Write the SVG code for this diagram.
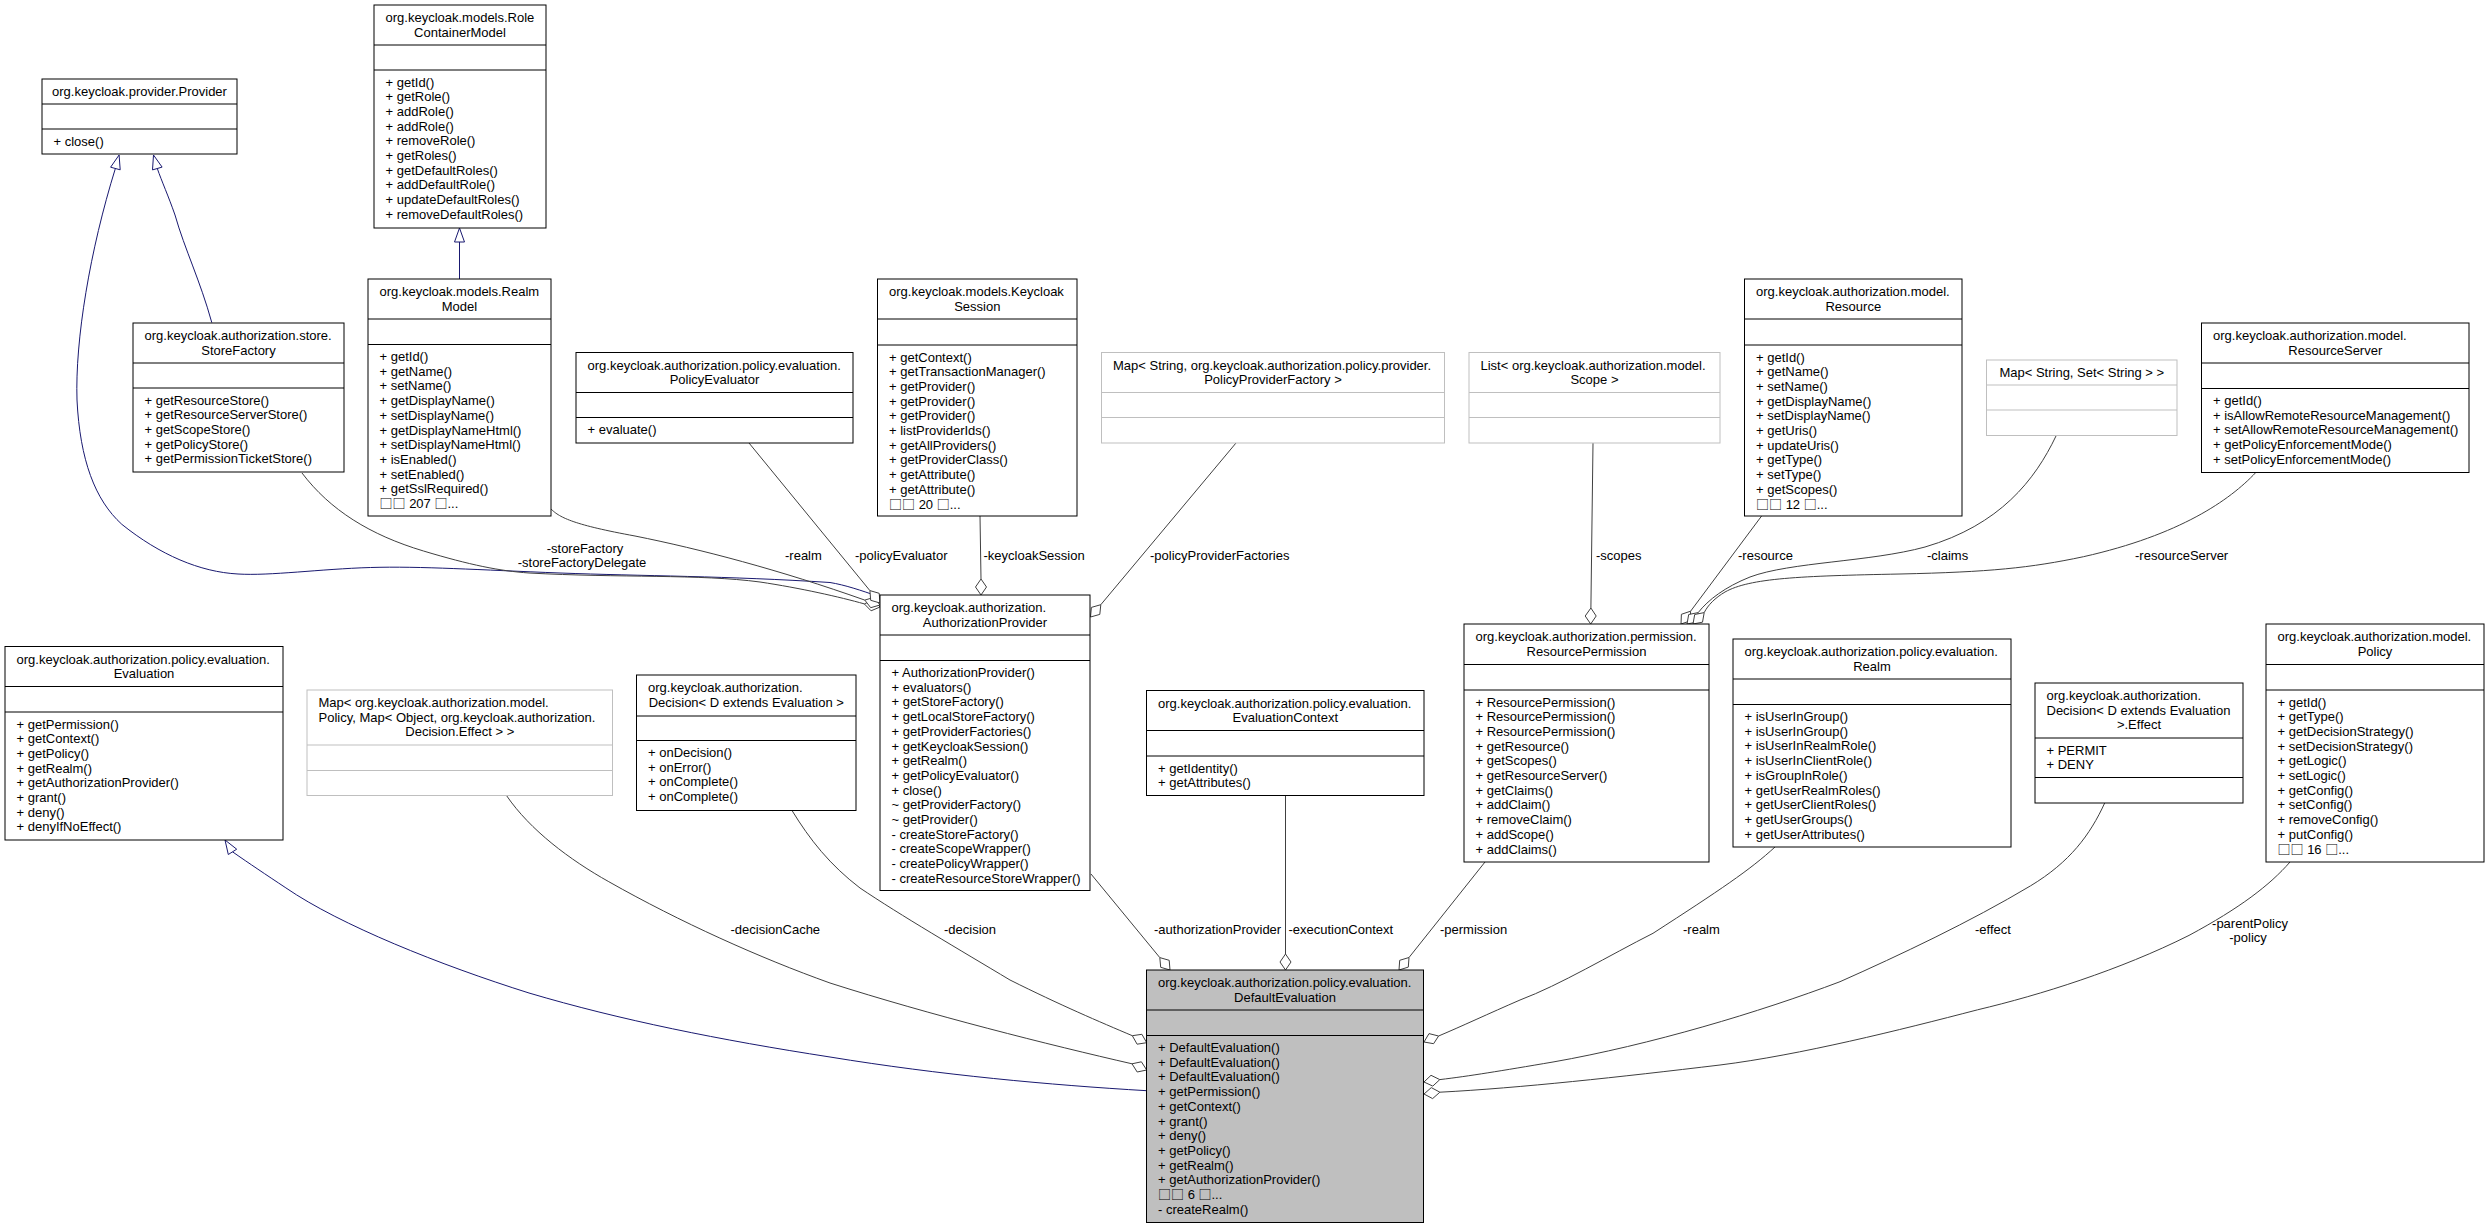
<svg xmlns="http://www.w3.org/2000/svg" width="2489" height="1228" viewBox="0 0 2489 1228">
<style>
text{font-family:"Liberation Sans",Arial,"DejaVu Sans",sans-serif;font-size:13px;fill:#000}
.c{text-anchor:middle}
.k{font-family:"Noto Sans CJK SC","DejaVu Sans",sans-serif}
.b{fill:#fff;stroke:#000;stroke-width:1}
.g{fill:#fff;stroke:#bfbfbf;stroke-width:1}
.cur{fill:#bfbfbf;stroke:#000;stroke-width:1}
.s{stroke:#000;stroke-width:1}
.gs{stroke:#bfbfbf;stroke-width:1}
.e{fill:none;stroke:#404040;stroke-width:1}
.i{fill:none;stroke:#191970;stroke-width:1}
.d{fill:#fff;stroke:#404040;stroke-width:1}
.t{fill:#fff;stroke:#191970;stroke-width:1}
</style>
<rect width="2489" height="1228" fill="#fff"/>

<g id="connectors">
<!-- inheritance -->
<path class="i" d="M459.5,279 L459.5,242"/>
<polygon class="t" points="459.5,228 464.5,242 454.5,242"/>
<path class="i" d="M211.8,322.6 C200,280 185,250 175,215 C168,195 162,182 157.3,168.5"/>
<polygon class="t" points="153.5,155 162.1,167.1 152.5,169.9"/>
<path class="i" d="M880,597 C860,590 845,585 830,582.5 C730,576 640,576 560,573 C480,570 420,566 370.6,567.5 C320,569 270,576 238,574 C200,572 160,555 121.8,524.3 C95,500 80,460 77,400 C75,340 90,250 115.4,168.4"/>
<polygon class="t" points="119.1,155 120.2,169.8 110.6,167.2"/>
<path class="i" d="M1146.7,1090.7 C1050,1085 940,1075 830,1057 C720,1040 620,1020 529,993 C440,965 340,925 285.9,887.9 C265,874 250,864 232.5,851.8"/>
<polygon class="t" points="225,840 236.7,849.2 228.3,854.5"/>

<!-- associations to AuthorizationProvider -->
<path class="e" d="M302,473 C330,510 370,535 423.5,551 C470,565 500,571 529,573 C620,578 700,574 760,582 C800,588 840,597 864.3,603.9"/>
<polygon class="d" points="880,607 871.1,610.8 864.3,603.9 873.2,600"/>
<path class="e" d="M551,509 C560,518 575,525 635,536 C700,549 780,570 864.8,600.1"/>
<polygon class="d" points="880,605 870.7,607.7 864.8,600.1 874.1,597.3"/>
<path class="e" d="M749,443 L869.9,590.6"/>
<polygon class="d" points="880,603 870.7,600.3 869.9,590.6 879.2,593.3"/>
<path class="e" d="M980,516 L981,579"/>
<polygon class="d" points="981,595 986.5,587 981,579 975.5,587"/>
<path class="e" d="M1236,443 L1100.8,604.7"/>
<polygon class="d" points="1090.5,617 1099.8,614.4 1100.8,604.7 1091.4,607.4"/>

<!-- associations to ResourcePermission -->
<path class="e" d="M1593,443 L1590.9,608"/>
<polygon class="d" points="1590.7,624 1596.2,616 1590.9,608 1585.2,616"/>
<path class="e" d="M1761.6,516 L1690.6,611.2"/>
<polygon class="d" points="1681,624 1690.2,620.9 1690.6,611.2 1681.4,614.3"/>
<path class="e" d="M2056,436 C2035,480 2000,525 1925,547 C1870,562 1790,562 1750,577 C1725,587 1708,600 1698.2,612.6"/>
<polygon class="d" points="1687,624 1696.5,622.2 1698.2,612.6 1688.7,614.5"/>
<path class="e" d="M2255.6,472.7 C2230,500 2180,535 2083.5,556.7 C2030,568 1990,572 1900,574 C1800,576 1750,578 1725,592 C1715,598 1708,605 1704.2,612.6"/>
<polygon class="d" points="1693,624 1702.5,622.2 1704.2,612.6 1694.7,614.5"/>

<!-- associations to DefaultEvaluation -->
<path class="e" d="M1091,874 L1159.8,957.6"/>
<polygon class="d" points="1170,970 1160.7,967.3 1159.8,957.6 1169.2,960.3"/>
<path class="e" d="M1285.5,795.7 L1285.5,954"/>
<polygon class="d" points="1285.5,970 1291,962 1285.5,954 1280,962"/>
<path class="e" d="M1485,862 L1409,957.5"/>
<polygon class="d" points="1399,970 1408.3,967.1 1409,957.5 1399.7,960.3"/>
<path class="e" d="M791.7,810 C810,840 830,865 860,888 C900,915 960,950 1010,980 C1060,1005 1100,1022 1132.3,1035.7"/>
<polygon class="d" points="1146.7,1042.7 1137.1,1044.2 1132.3,1035.7 1141.9,1034.3"/>
<path class="e" d="M506.6,795.7 C530,830 570,860 608.8,881.7 C680,922 760,958 830,983 C930,1015 1050,1045 1132,1063.8"/>
<polygon class="d" points="1146.7,1070 1137.2,1072 1132,1063.8 1141.4,1061.8"/>
<path class="e" d="M1775,847 C1750,870 1720,890 1653,933.3 C1610,955 1560,985 1520,1000 C1490,1013 1460,1027 1438.6,1036"/>
<polygon class="d" points="1424,1042 1433.6,1043.7 1438.6,1036 1429,1033.6"/>
<path class="e" d="M2104.7,803 C2090,835 2070,862 2030.6,885.8 C1970,922 1900,955 1840,981.7 C1760,1012 1650,1045 1553,1062 C1500,1071 1470,1076 1439.8,1079.6"/>
<polygon class="d" points="1424,1082 1432.8,1086.1 1439.8,1079.6 1431,1075.3"/>
<path class="e" d="M2290,862 C2270,885 2240,908 2189,935.4 C2120,970 2040,995 1977.6,1009.8 C1900,1030 1800,1055 1720,1065 C1620,1077 1520,1088 1439.9,1092.2"/>
<polygon class="d" points="1424,1094 1432.6,1098.6 1439.9,1092.2 1431.3,1087.6"/>

<!-- labels -->
<text class="c" x="585" y="552.5">-storeFactory</text>
<text class="c" x="582" y="567">-storeFactoryDelegate</text>
<text x="785" y="560">-realm</text>
<text x="855" y="560">-policyEvaluator</text>
<text x="983.5" y="560">-keycloakSession</text>
<text x="1150" y="560">-policyProviderFactories</text>
<text x="1596" y="560">-scopes</text>
<text x="1738" y="560">-resource</text>
<text x="1927" y="560">-claims</text>
<text x="2135" y="560">-resourceServer</text>
<text x="730.5" y="933.5">-decisionCache</text>
<text x="944" y="933.5">-decision</text>
<text x="1154" y="933.5">-authorizationProvider</text>
<text x="1288.4" y="933.5">-executionContext</text>
<text x="1440" y="933.5">-permission</text>
<text x="1683" y="933.5">-realm</text>
<text x="1975" y="933.5">-effect</text>
<text class="c" x="2250" y="927.5">-parentPolicy</text>
<text class="c" x="2248" y="942">-policy</text>
</g>

<g id="provider">
<rect class="b" x="42" y="79" width="195" height="75"/>
<line class="s" x1="42" y1="104" x2="237" y2="104"/><line class="s" x1="42" y1="129" x2="237" y2="129"/>
<text class="c" x="139.5" y="95.5">org.keycloak.provider.Provider</text>
<text x="53.5" y="145.5">+ close()</text>
</g>

<g id="roleContainerModel">
<rect class="b" x="374" y="5" width="172" height="223"/>
<line class="s" x1="374" y1="45" x2="546" y2="45"/><line class="s" x1="374" y1="70" x2="546" y2="70"/>
<text x="385.5" y="22">org.keycloak.models.Role</text>
<text class="c" x="460" y="36.7">ContainerModel</text>
<text x="385.5" y="86.5">+ getId()</text>
<text x="385.5" y="101.2">+ getRole()</text>
<text x="385.5" y="115.9">+ addRole()</text>
<text x="385.5" y="130.6">+ addRole()</text>
<text x="385.5" y="145.3">+ removeRole()</text>
<text x="385.5" y="160">+ getRoles()</text>
<text x="385.5" y="174.7">+ getDefaultRoles()</text>
<text x="385.5" y="189.4">+ addDefaultRole()</text>
<text x="385.5" y="204.1">+ updateDefaultRoles()</text>
<text x="385.5" y="218.8">+ removeDefaultRoles()</text>
</g>

<g id="storeFactory">
<rect class="b" x="133" y="323" width="211" height="149"/>
<line class="s" x1="133" y1="363" x2="344" y2="363"/><line class="s" x1="133" y1="388" x2="344" y2="388"/>
<text x="144.5" y="340">org.keycloak.authorization.store.</text>
<text class="c" x="238.5" y="354.7">StoreFactory</text>
<text x="144.5" y="404.5">+ getResourceStore()</text>
<text x="144.5" y="419.2">+ getResourceServerStore()</text>
<text x="144.5" y="433.9">+ getScopeStore()</text>
<text x="144.5" y="448.6">+ getPolicyStore()</text>
<text x="144.5" y="463.3">+ getPermissionTicketStore()</text>
</g>

<g id="realmModel">
<rect class="b" x="368" y="279" width="183" height="237"/>
<line class="s" x1="368" y1="319" x2="551" y2="319"/><line class="s" x1="368" y1="344.5" x2="551" y2="344.5"/>
<text x="379.5" y="296">org.keycloak.models.Realm</text>
<text class="c" x="459.5" y="310.7">Model</text>
<text x="379.5" y="361">+ getId()</text>
<text x="379.5" y="375.7">+ getName()</text>
<text x="379.5" y="390.4">+ setName()</text>
<text x="379.5" y="405.1">+ getDisplayName()</text>
<text x="379.5" y="419.8">+ setDisplayName()</text>
<text x="379.5" y="434.5">+ getDisplayNameHtml()</text>
<text x="379.5" y="449.2">+ setDisplayNameHtml()</text>
<text x="379.5" y="463.9">+ isEnabled()</text>
<text x="379.5" y="478.6">+ setEnabled()</text>
<text x="379.5" y="493.3">+ getSslRequired()</text>
<text x="379.5" y="508"><tspan class="k">□□</tspan> 207 <tspan class="k">□</tspan>...</text>
</g>

<g id="policyEvaluator">
<rect class="b" x="576" y="352.5" width="277" height="90.5"/>
<line class="s" x1="576" y1="392.5" x2="853" y2="392.5"/><line class="s" x1="576" y1="417.5" x2="853" y2="417.5"/>
<text x="587.5" y="369.5">org.keycloak.authorization.policy.evaluation.</text>
<text class="c" x="714.5" y="384.2">PolicyEvaluator</text>
<text x="587.5" y="434">+ evaluate()</text>
</g>

<g id="keycloakSession">
<rect class="b" x="877.5" y="279" width="199.5" height="237"/>
<line class="s" x1="877.5" y1="319" x2="1077" y2="319"/><line class="s" x1="877.5" y1="345" x2="1077" y2="345"/>
<text x="889" y="296">org.keycloak.models.Keycloak</text>
<text class="c" x="977.3" y="310.7">Session</text>
<text x="889" y="361.5">+ getContext()</text>
<text x="889" y="376.2">+ getTransactionManager()</text>
<text x="889" y="390.9">+ getProvider()</text>
<text x="889" y="405.6">+ getProvider()</text>
<text x="889" y="420.3">+ getProvider()</text>
<text x="889" y="435">+ listProviderIds()</text>
<text x="889" y="449.7">+ getAllProviders()</text>
<text x="889" y="464.4">+ getProviderClass()</text>
<text x="889" y="479.1">+ getAttribute()</text>
<text x="889" y="493.8">+ getAttribute()</text>
<text x="889" y="508.5"><tspan class="k">□□</tspan> 20 <tspan class="k">□</tspan>...</text>
</g>

<g id="mapPolicyProviderFactory">
<rect class="g" x="1101.5" y="352.5" width="343" height="90.5"/>
<line class="gs" x1="1101.5" y1="392.5" x2="1444.5" y2="392.5"/><line class="gs" x1="1101.5" y1="417.5" x2="1444.5" y2="417.5"/>
<text x="1113" y="369.5">Map&lt; String, org.keycloak.authorization.policy.provider.</text>
<text class="c" x="1273" y="384.2">PolicyProviderFactory &gt;</text>
</g>

<g id="listScope">
<rect class="g" x="1469" y="352.5" width="251" height="90.5"/>
<line class="gs" x1="1469" y1="392.5" x2="1720" y2="392.5"/><line class="gs" x1="1469" y1="417.5" x2="1720" y2="417.5"/>
<text x="1480.5" y="369.5">List&lt; org.keycloak.authorization.model.</text>
<text class="c" x="1594.5" y="384.2">Scope &gt;</text>
</g>

<g id="resource">
<rect class="b" x="1744.5" y="279" width="217.5" height="237"/>
<line class="s" x1="1744.5" y1="319" x2="1962" y2="319"/><line class="s" x1="1744.5" y1="345" x2="1962" y2="345"/>
<text x="1756" y="296">org.keycloak.authorization.model.</text>
<text class="c" x="1853.3" y="310.7">Resource</text>
<text x="1756" y="361.5">+ getId()</text>
<text x="1756" y="376.2">+ getName()</text>
<text x="1756" y="390.9">+ setName()</text>
<text x="1756" y="405.6">+ getDisplayName()</text>
<text x="1756" y="420.3">+ setDisplayName()</text>
<text x="1756" y="435">+ getUris()</text>
<text x="1756" y="449.7">+ updateUris()</text>
<text x="1756" y="464.4">+ getType()</text>
<text x="1756" y="479.1">+ setType()</text>
<text x="1756" y="493.8">+ getScopes()</text>
<text x="1756" y="508.5"><tspan class="k">□□</tspan> 12 <tspan class="k">□</tspan>...</text>
</g>

<g id="mapSet">
<rect class="g" x="1986.5" y="360" width="190.5" height="75.5"/>
<line class="gs" x1="1986.5" y1="385" x2="2177" y2="385"/><line class="gs" x1="1986.5" y1="410" x2="2177" y2="410"/>
<text class="c" x="2081.8" y="376.5">Map&lt; String, Set&lt; String &gt; &gt;</text>
</g>

<g id="resourceServer">
<rect class="b" x="2201.5" y="323" width="267.5" height="149.5"/>
<line class="s" x1="2201.5" y1="363" x2="2469" y2="363"/><line class="s" x1="2201.5" y1="388.5" x2="2469" y2="388.5"/>
<text x="2213" y="340">org.keycloak.authorization.model.</text>
<text class="c" x="2335.3" y="354.7">ResourceServer</text>
<text x="2213" y="405">+ getId()</text>
<text x="2213" y="419.7">+ isAllowRemoteResourceManagement()</text>
<text x="2213" y="434.4">+ setAllowRemoteResourceManagement()</text>
<text x="2213" y="449.1">+ getPolicyEnforcementMode()</text>
<text x="2213" y="463.8">+ setPolicyEnforcementMode()</text>
</g>

<g id="authorizationProvider">
<rect class="b" x="880" y="595" width="210" height="295.5"/>
<line class="s" x1="880" y1="635" x2="1090" y2="635"/><line class="s" x1="880" y1="660.5" x2="1090" y2="660.5"/>
<text x="891.5" y="612">org.keycloak.authorization.</text>
<text class="c" x="985" y="626.7">AuthorizationProvider</text>
<text x="891.5" y="677">+ AuthorizationProvider()</text>
<text x="891.5" y="691.7">+ evaluators()</text>
<text x="891.5" y="706.4">+ getStoreFactory()</text>
<text x="891.5" y="721.1">+ getLocalStoreFactory()</text>
<text x="891.5" y="735.8">+ getProviderFactories()</text>
<text x="891.5" y="750.5">+ getKeycloakSession()</text>
<text x="891.5" y="765.2">+ getRealm()</text>
<text x="891.5" y="779.9">+ getPolicyEvaluator()</text>
<text x="891.5" y="794.6">+ close()</text>
<text x="891.5" y="809.3">~ getProviderFactory()</text>
<text x="891.5" y="824">~ getProvider()</text>
<text x="891.5" y="838.7">- createStoreFactory()</text>
<text x="891.5" y="853.4">- createScopeWrapper()</text>
<text x="891.5" y="868.1">- createPolicyWrapper()</text>
<text x="891.5" y="882.8">- createResourceStoreWrapper()</text>
</g>

<g id="evaluation">
<rect class="b" x="5" y="646.5" width="278" height="193.5"/>
<line class="s" x1="5" y1="686.5" x2="283" y2="686.5"/><line class="s" x1="5" y1="712" x2="283" y2="712"/>
<text x="16.5" y="663.5">org.keycloak.authorization.policy.evaluation.</text>
<text class="c" x="144" y="678.2">Evaluation</text>
<text x="16.5" y="728.5">+ getPermission()</text>
<text x="16.5" y="743.2">+ getContext()</text>
<text x="16.5" y="757.9">+ getPolicy()</text>
<text x="16.5" y="772.6">+ getRealm()</text>
<text x="16.5" y="787.3">+ getAuthorizationProvider()</text>
<text x="16.5" y="802">+ grant()</text>
<text x="16.5" y="816.7">+ deny()</text>
<text x="16.5" y="831.4">+ denyIfNoEffect()</text>
</g>

<g id="mapDecisionCache">
<rect class="g" x="307" y="690" width="305.5" height="105.5"/>
<line class="gs" x1="307" y1="745" x2="612.5" y2="745"/><line class="gs" x1="307" y1="770.5" x2="612.5" y2="770.5"/>
<text x="318.5" y="707">Map&lt; org.keycloak.authorization.model.</text>
<text x="318.5" y="721.7">Policy, Map&lt; Object, org.keycloak.authorization.</text>
<text class="c" x="459.8" y="736.4">Decision.Effect &gt; &gt;</text>
</g>

<g id="decision">
<rect class="b" x="636.5" y="675" width="219.5" height="135.5"/>
<line class="s" x1="636.5" y1="716" x2="856" y2="716"/><line class="s" x1="636.5" y1="740.5" x2="856" y2="740.5"/>
<text x="648" y="692">org.keycloak.authorization.</text>
<text class="c" x="746.3" y="706.7">Decision&lt; D extends Evaluation &gt;</text>
<text x="648" y="757">+ onDecision()</text>
<text x="648" y="771.7">+ onError()</text>
<text x="648" y="786.4">+ onComplete()</text>
<text x="648" y="801.1">+ onComplete()</text>
</g>

<g id="evaluationContext">
<rect class="b" x="1146.5" y="690.5" width="277.5" height="105"/>
<line class="s" x1="1146.5" y1="730.5" x2="1424" y2="730.5"/><line class="s" x1="1146.5" y1="756" x2="1424" y2="756"/>
<text x="1158" y="707.5">org.keycloak.authorization.policy.evaluation.</text>
<text class="c" x="1285.3" y="722.2">EvaluationContext</text>
<text x="1158" y="772.5">+ getIdentity()</text>
<text x="1158" y="787.2">+ getAttributes()</text>
</g>

<g id="resourcePermission">
<rect class="b" x="1464" y="624" width="245" height="238"/>
<line class="s" x1="1464" y1="664.5" x2="1709" y2="664.5"/><line class="s" x1="1464" y1="690" x2="1709" y2="690"/>
<text x="1475.5" y="641">org.keycloak.authorization.permission.</text>
<text class="c" x="1586.5" y="655.7">ResourcePermission</text>
<text x="1475.5" y="706.5">+ ResourcePermission()</text>
<text x="1475.5" y="721.2">+ ResourcePermission()</text>
<text x="1475.5" y="735.9">+ ResourcePermission()</text>
<text x="1475.5" y="750.6">+ getResource()</text>
<text x="1475.5" y="765.3">+ getScopes()</text>
<text x="1475.5" y="780">+ getResourceServer()</text>
<text x="1475.5" y="794.7">+ getClaims()</text>
<text x="1475.5" y="809.4">+ addClaim()</text>
<text x="1475.5" y="824.1">+ removeClaim()</text>
<text x="1475.5" y="838.8">+ addScope()</text>
<text x="1475.5" y="853.5">+ addClaims()</text>
</g>

<g id="realm">
<rect class="b" x="1733" y="639" width="278" height="208"/>
<line class="s" x1="1733" y1="679" x2="2011" y2="679"/><line class="s" x1="1733" y1="704.5" x2="2011" y2="704.5"/>
<text x="1744.5" y="656">org.keycloak.authorization.policy.evaluation.</text>
<text class="c" x="1872" y="670.7">Realm</text>
<text x="1744.5" y="721">+ isUserInGroup()</text>
<text x="1744.5" y="735.7">+ isUserInGroup()</text>
<text x="1744.5" y="750.4">+ isUserInRealmRole()</text>
<text x="1744.5" y="765.1">+ isUserInClientRole()</text>
<text x="1744.5" y="779.8">+ isGroupInRole()</text>
<text x="1744.5" y="794.5">+ getUserRealmRoles()</text>
<text x="1744.5" y="809.2">+ getUserClientRoles()</text>
<text x="1744.5" y="823.9">+ getUserGroups()</text>
<text x="1744.5" y="838.6">+ getUserAttributes()</text>
</g>

<g id="decisionEffect">
<rect class="b" x="2035" y="683" width="208" height="120"/>
<line class="s" x1="2035" y1="738" x2="2243" y2="738"/><line class="s" x1="2035" y1="777.5" x2="2243" y2="777.5"/>
<text x="2046.5" y="700">org.keycloak.authorization.</text>
<text x="2046.5" y="714.7">Decision&lt; D extends Evaluation</text>
<text class="c" x="2139" y="729.4">&gt;.Effect</text>
<text x="2046.5" y="754.5">+ PERMIT</text>
<text x="2046.5" y="769.2">+ DENY</text>
</g>

<g id="policy">
<rect class="b" x="2266" y="624" width="218" height="238"/>
<line class="s" x1="2266" y1="664.5" x2="2484" y2="664.5"/><line class="s" x1="2266" y1="690" x2="2484" y2="690"/>
<text x="2277.5" y="641">org.keycloak.authorization.model.</text>
<text class="c" x="2375" y="655.7">Policy</text>
<text x="2277.5" y="706.5">+ getId()</text>
<text x="2277.5" y="721.2">+ getType()</text>
<text x="2277.5" y="735.9">+ getDecisionStrategy()</text>
<text x="2277.5" y="750.6">+ setDecisionStrategy()</text>
<text x="2277.5" y="765.3">+ getLogic()</text>
<text x="2277.5" y="780">+ setLogic()</text>
<text x="2277.5" y="794.7">+ getConfig()</text>
<text x="2277.5" y="809.4">+ setConfig()</text>
<text x="2277.5" y="824.1">+ removeConfig()</text>
<text x="2277.5" y="838.8">+ putConfig()</text>
<text x="2277.5" y="853.5"><tspan class="k">□□</tspan> 16 <tspan class="k">□</tspan>...</text>
</g>

<g id="defaultEvaluation">
<rect class="cur" x="1146.5" y="970" width="277" height="252.5"/>
<line class="s" x1="1146.5" y1="1010" x2="1423.5" y2="1010"/><line class="s" x1="1146.5" y1="1035.5" x2="1423.5" y2="1035.5"/>
<text x="1158" y="987">org.keycloak.authorization.policy.evaluation.</text>
<text class="c" x="1285" y="1001.7">DefaultEvaluation</text>
<text x="1158" y="1052">+ DefaultEvaluation()</text>
<text x="1158" y="1066.7">+ DefaultEvaluation()</text>
<text x="1158" y="1081.4">+ DefaultEvaluation()</text>
<text x="1158" y="1096.1">+ getPermission()</text>
<text x="1158" y="1110.8">+ getContext()</text>
<text x="1158" y="1125.5">+ grant()</text>
<text x="1158" y="1140.2">+ deny()</text>
<text x="1158" y="1154.9">+ getPolicy()</text>
<text x="1158" y="1169.6">+ getRealm()</text>
<text x="1158" y="1184.3">+ getAuthorizationProvider()</text>
<text x="1158" y="1199"><tspan class="k">□□</tspan> 6 <tspan class="k">□</tspan>...</text>
<text x="1158" y="1213.7">- createRealm()</text>
</g>
</svg>
